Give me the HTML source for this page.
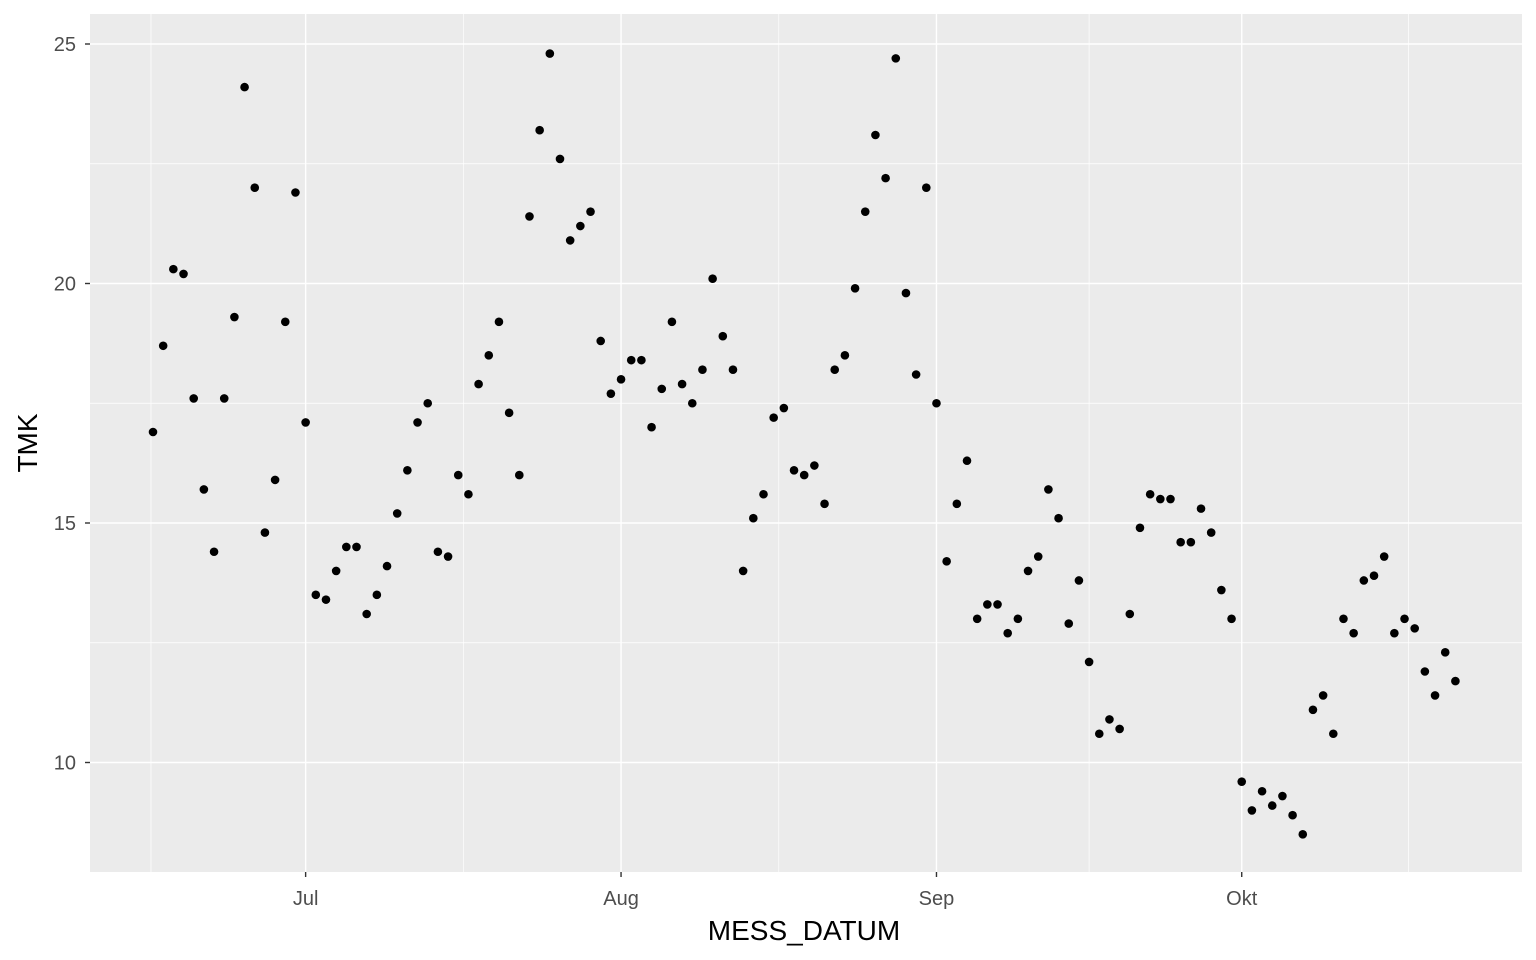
<!DOCTYPE html>
<html><head><meta charset="utf-8"><style>
body{margin:0;background:#fff;}
svg{display:block;font-family:"Liberation Sans",sans-serif;}
</style></head><body>
<svg id="chart" width="1536" height="960">
<rect x="90" y="14" width="1432" height="858" fill="#ebebeb"/>
<g id="grid"></g><g id="pts"></g><g id="axes"></g>
<text x="804" y="940" text-anchor="middle" font-size="28" fill="#000">MESS_DATUM</text>
<text transform="translate(37,443) rotate(-90)" text-anchor="middle" font-size="28" fill="#000">TMK</text>
</svg>
<script>
const startLabel = "2019-06-16";
const tmk = [16.9,18.7,20.3,20.2,17.6,15.7,14.4,17.6,19.3,24.1,22.0,14.8,15.9,19.2,21.9,
17.1,13.5,13.4,14.0,14.5,14.5,13.1,13.5,14.1,15.2,16.1,17.1,17.5,14.4,14.3,16.0,15.6,17.9,18.5,19.2,17.3,16.0,21.4,23.2,24.8,22.6,20.9,21.2,21.5,18.8,17.7,
18.0,18.4,18.4,17.0,17.8,19.2,17.9,17.5,18.2,20.1,18.9,18.2,14.0,15.1,15.6,17.2,17.4,16.1,16.0,16.2,15.4,18.2,18.5,19.9,21.5,23.1,22.2,24.7,19.8,18.1,22.0,
17.5,14.2,15.4,16.3,13.0,13.3,13.3,12.7,13.0,14.0,14.3,15.7,15.1,12.9,13.8,12.1,10.6,10.9,10.7,13.1,14.9,15.6,15.5,15.5,14.6,14.6,15.3,14.8,13.6,13.0,
9.6,9.0,9.4,9.1,9.3,8.9,8.5,11.1,11.4,10.6,13.0,12.7,13.8,13.9,14.3,12.7,13.0,12.8,11.9,11.4,12.3,11.7];
const xTickLabels = ["Jul","Aug","Sep","Okt"];
const xTickDays = [15,46,77,107];
const xMinorDays = [-0.2,30.5,61.5,92,123.4];
const yTicks = [10,15,20,25];
const yMinor = [12.5,17.5,22.5];
const NS="http://www.w3.org/2000/svg";
const xs = d => 153 + d*10.175;
const ys = v => 44 + (25 - v)*47.9;
function mk(tag, attrs, parent){const e=document.createElementNS(NS,tag);for(const k in attrs)e.setAttribute(k,attrs[k]);parent.appendChild(e);return e;}
const grid=document.getElementById('grid'), pts=document.getElementById('pts'), axes=document.getElementById('axes');
yMinor.forEach(v=>{const l=mk('line',{x1:90,x2:1522,y1:ys(v),y2:ys(v),stroke:'#fff','stroke-width':0.7},grid);

});
xMinorDays.forEach(d=>{const l=mk('line',{x1:xs(d),x2:xs(d),y1:14,y2:872,stroke:'#fff','stroke-width':0.7},grid);

});
yTicks.forEach(v=>{const l=mk('line',{x1:90,x2:1522,y1:ys(v),y2:ys(v),stroke:'#fff','stroke-width':1.4},grid);


const t=mk('line',{x1:85,x2:90,y1:ys(v),y2:ys(v),stroke:'#333','stroke-width':1.4},axes);


const tx=mk('text',{x:76,y:ys(v)+7,'text-anchor':'end','font-size':20,fill:'#4d4d4d'},axes);tx.textContent=v;

});
xTickDays.forEach((d,i)=>{const l=mk('line',{x1:xs(d),x2:xs(d),y1:14,y2:872,stroke:'#fff','stroke-width':1.4},grid);


const t=mk('line',{x1:xs(d),x2:xs(d),y1:872,y2:877,stroke:'#333','stroke-width':1.4},axes);


const tx=mk('text',{x:xs(d),y:905,'text-anchor':'middle','font-size':20,fill:'#4d4d4d'},axes);tx.textContent=xTickLabels[i];

});
tmk.forEach((v,i)=>{const c=mk('circle',{cx:xs(i),cy:ys(v),r:4.3,fill:'#000'},pts);

});
</script>
</body></html>
